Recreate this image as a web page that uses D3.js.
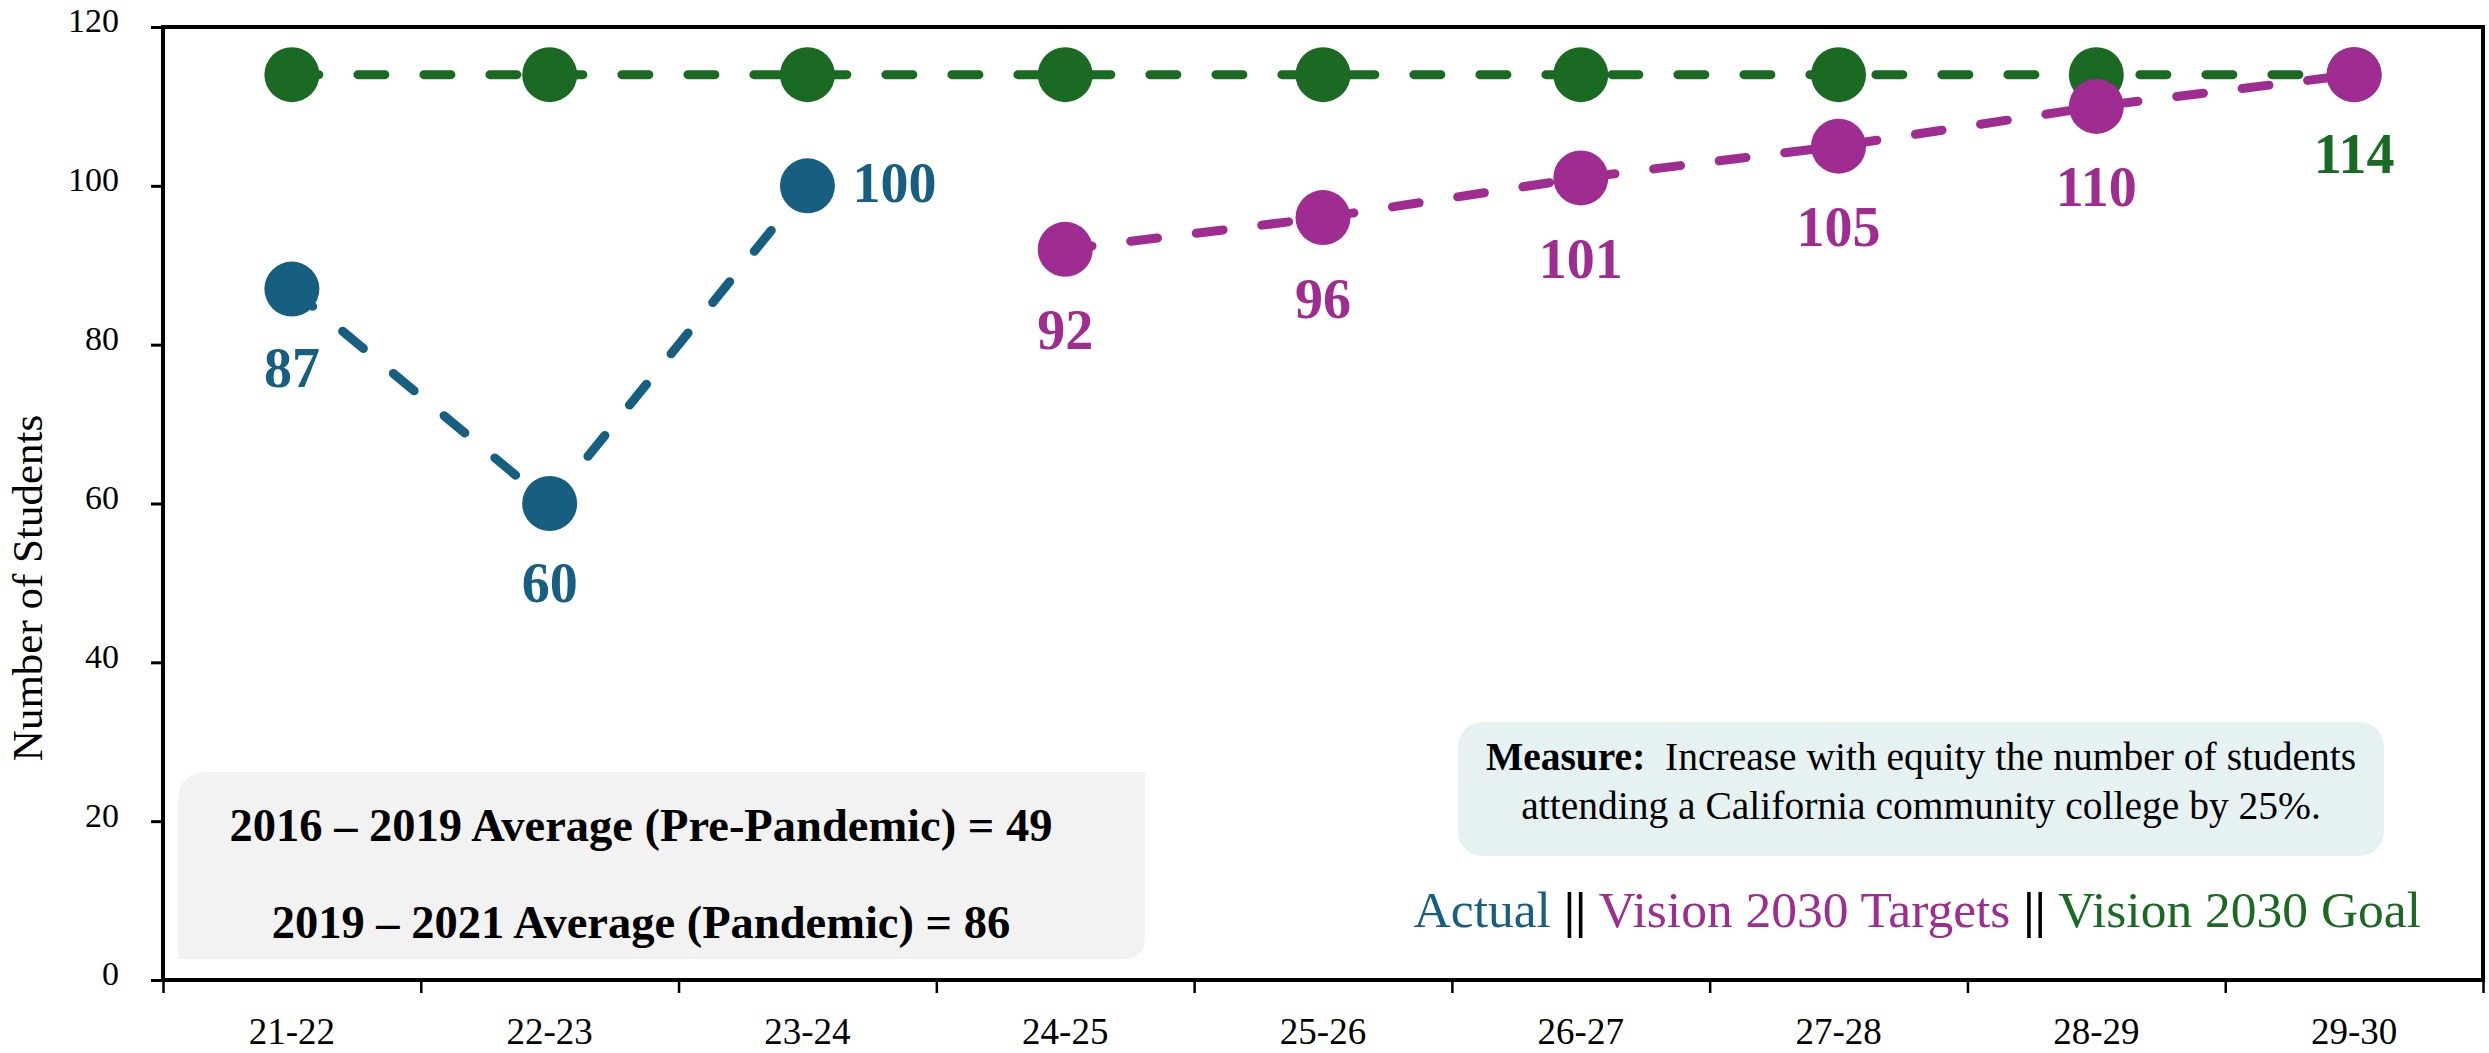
<!DOCTYPE html>
<html>
<head>
<meta charset="utf-8">
<script src="https://cdn.jsdelivr.net/npm/d3@7"></script>
<style>
  html, body { margin: 0; padding: 0; background: #ffffff; }
  svg { display: block; }
  text { font-family: "Liberation Serif", "Times New Roman", serif; }
</style>
</head>
<body>
<svg id="chart" width="2489" height="1053"></svg>
<script>
// ---------- data ----------
const categories = ["21-22","22-23","23-24","24-25","25-26","26-27","27-28","28-29","29-30"];
const actualCats = ["21-22","22-23","23-24"];
const actualValues = [87, 60, 100];
const targetCats = ["24-25","25-26","26-27","27-28","28-29","29-30"];
const targetValues = [92, 96, 101, 105, 110, 114];
const goalValues = [114,114,114,114,114,114,114,114,114];
const yTicks = [0, 20, 40, 60, 80, 100, 120];
const yTitle = "Number of Students";
const infoLines = ["2016 \u2013 2019 Average (Pre-Pandemic) = 49", "2019 \u2013 2021 Average (Pandemic) = 86"];
const measureBold = "Measure:";
const measureLines = ["\u00a0 Increase with equity the number of students", "attending a California community college by 25%."];
const legendItems = ["Actual", "Vision 2030 Targets", "Vision 2030 Goal"];

// ---------- styles ----------
const C = { actual: "#175f80", target: "#9f2c91", goal: "#1b6a24" };
const plot = { left: 163, right: 2483, top: 27, bottom: 980 };

const svg = d3.select("#chart");

const x = d3.scaleBand().domain(categories).range([plot.left, plot.right]).padding(0);
const xEdge = d3.scaleLinear().domain([0, categories.length]).range([plot.left, plot.right]);
const y = d3.scaleLinear().domain([0, 120]).range([plot.bottom, plot.top]);
const cx = d => x(d) + x.bandwidth() / 2;

// ---------- info boxes ----------
// grey box: rounded top-left and bottom-right
const gb = { x0: 178, y0: 772, x1: 1145, y1: 959, r1: 30, r2: 22 };
svg.append("path")
  .attr("d", `M${gb.x0},${gb.y0 + gb.r1} Q${gb.x0},${gb.y0} ${gb.x0 + gb.r1},${gb.y0} L${gb.x1},${gb.y0} L${gb.x1},${gb.y1 - gb.r2} Q${gb.x1},${gb.y1} ${gb.x1 - gb.r2},${gb.y1} L${gb.x0},${gb.y1} Z`)
  .attr("fill", "#f2f2f2");
const gcx = 641;
svg.append("text").attr("x", gcx).attr("y", 841).attr("text-anchor", "middle")
  .attr("font-size", 46.5).attr("font-weight", "bold").attr("fill", "#000").text(infoLines[0]);
svg.append("text").attr("x", gcx).attr("y", 938).attr("text-anchor", "middle")
  .attr("font-size", 46.5).attr("font-weight", "bold").attr("fill", "#000").text(infoLines[1]);

// measure box
svg.append("rect").attr("x", 1458).attr("y", 722).attr("width", 926).attr("height", 134)
  .attr("rx", 24).attr("ry", 24).attr("fill", "#e6f2f2");
const m1 = svg.append("text").attr("x", 1921).attr("y", 770).attr("text-anchor", "middle")
  .attr("font-size", 39.5).attr("fill", "#000");
m1.append("tspan").attr("font-weight", "bold").text(measureBold);
m1.append("tspan").text(measureLines[0]);
svg.append("text").attr("x", 1921).attr("y", 819).attr("text-anchor", "middle")
  .attr("font-size", 39.5).attr("fill", "#000").text(measureLines[1]);

// legend
const lg = svg.append("text").attr("x", 2421).attr("y", 927).attr("text-anchor", "end")
  .attr("font-size", 51.5);
lg.append("tspan").attr("fill", C.actual).text(legendItems[0] + " ");
lg.append("tspan").attr("fill", "#000").attr("font-weight", "bold").text("||");
lg.append("tspan").attr("fill", C.target).text(" " + legendItems[1] + " ");
lg.append("tspan").attr("fill", "#000").attr("font-weight", "bold").text("||");
lg.append("tspan").attr("fill", C.goal).text(" " + legendItems[2]);

// ---------- axes ----------
const yAxis = svg.append("g").attr("transform", `translate(${plot.left},0)`)
  .call(d3.axisLeft(y).tickValues(yTicks).tickSize(12).tickPadding(32));
yAxis.select(".domain").remove();
yAxis.selectAll(".tick line").attr("stroke", "#000").attr("stroke-width", 3);
yAxis.selectAll(".tick text").attr("font-family", "Liberation Serif, serif")
  .attr("font-size", 34).attr("fill", "#000").attr("dy", "0.32em")
  .attr("transform", "translate(0,-6)");

const xTicksG = svg.append("g").attr("transform", `translate(0,${plot.bottom})`)
  .call(d3.axisBottom(xEdge).tickValues(d3.range(categories.length + 1)).tickSize(13).tickFormat(""));
xTicksG.select(".domain").remove();
xTicksG.selectAll(".tick line").attr("stroke", "#000").attr("stroke-width", 2.5);

const xLabels = svg.append("g").attr("transform", `translate(0,${plot.bottom})`)
  .call(d3.axisBottom(x).tickSize(0).tickPadding(38));
xLabels.select(".domain").remove();
xLabels.selectAll(".tick text").attr("font-family", "Liberation Serif, serif")
  .attr("font-size", 37).attr("fill", "#000");

// frame
svg.append("rect").attr("x", plot.left).attr("y", plot.top)
  .attr("width", plot.right - plot.left).attr("height", plot.bottom - plot.top)
  .attr("fill", "none").attr("stroke", "#000").attr("stroke-width", 4);

// y title
svg.append("text").attr("transform", `translate(42,588) rotate(-90)`)
  .attr("text-anchor", "middle").attr("font-size", 43).attr("fill", "#000").text(yTitle);

// ---------- series ----------
const line = d3.line().x(d => cx(d.c)).y(d => y(d.v));
const R = 27.5;

function series(cats, vals, color) {
  const pts = cats.map((c, i) => ({ c, v: vals[i] }));
  svg.append("path").datum(pts).attr("d", line)
    .attr("fill", "none").attr("stroke", color).attr("stroke-width", 9)
    .attr("stroke-linecap", "round").attr("stroke-dasharray", "27,39");
  svg.append("g").selectAll("circle").data(pts).join("circle")
    .attr("cx", d => cx(d.c)).attr("cy", d => y(d.v)).attr("r", R).attr("fill", color);
  return pts;
}

const gPts = series(categories, goalValues, C.goal);
const tPts = series(targetCats, targetValues, C.target);
const aPts = series(actualCats, actualValues, C.actual);

// labels
const LF = 56;
function label(p, color, dx, dy, anchor) {
  svg.append("text").attr("x", cx(p.c) + dx).attr("y", y(p.v) + dy)
    .attr("text-anchor", anchor).attr("font-size", LF).attr("font-weight", "bold")
    .attr("fill", color).text(p.v);
}
label(aPts[0], C.actual, 0, 98, "middle");
label(aPts[1], C.actual, 0, 98, "middle");
label(aPts[2], C.actual, 45, 16, "start");
tPts.slice(0, 5).forEach(p => label(p, C.target, 0, 100, "middle"));
label(gPts[gPts.length - 1], C.goal, 0, 98, "middle");
</script>
</body>
</html>
